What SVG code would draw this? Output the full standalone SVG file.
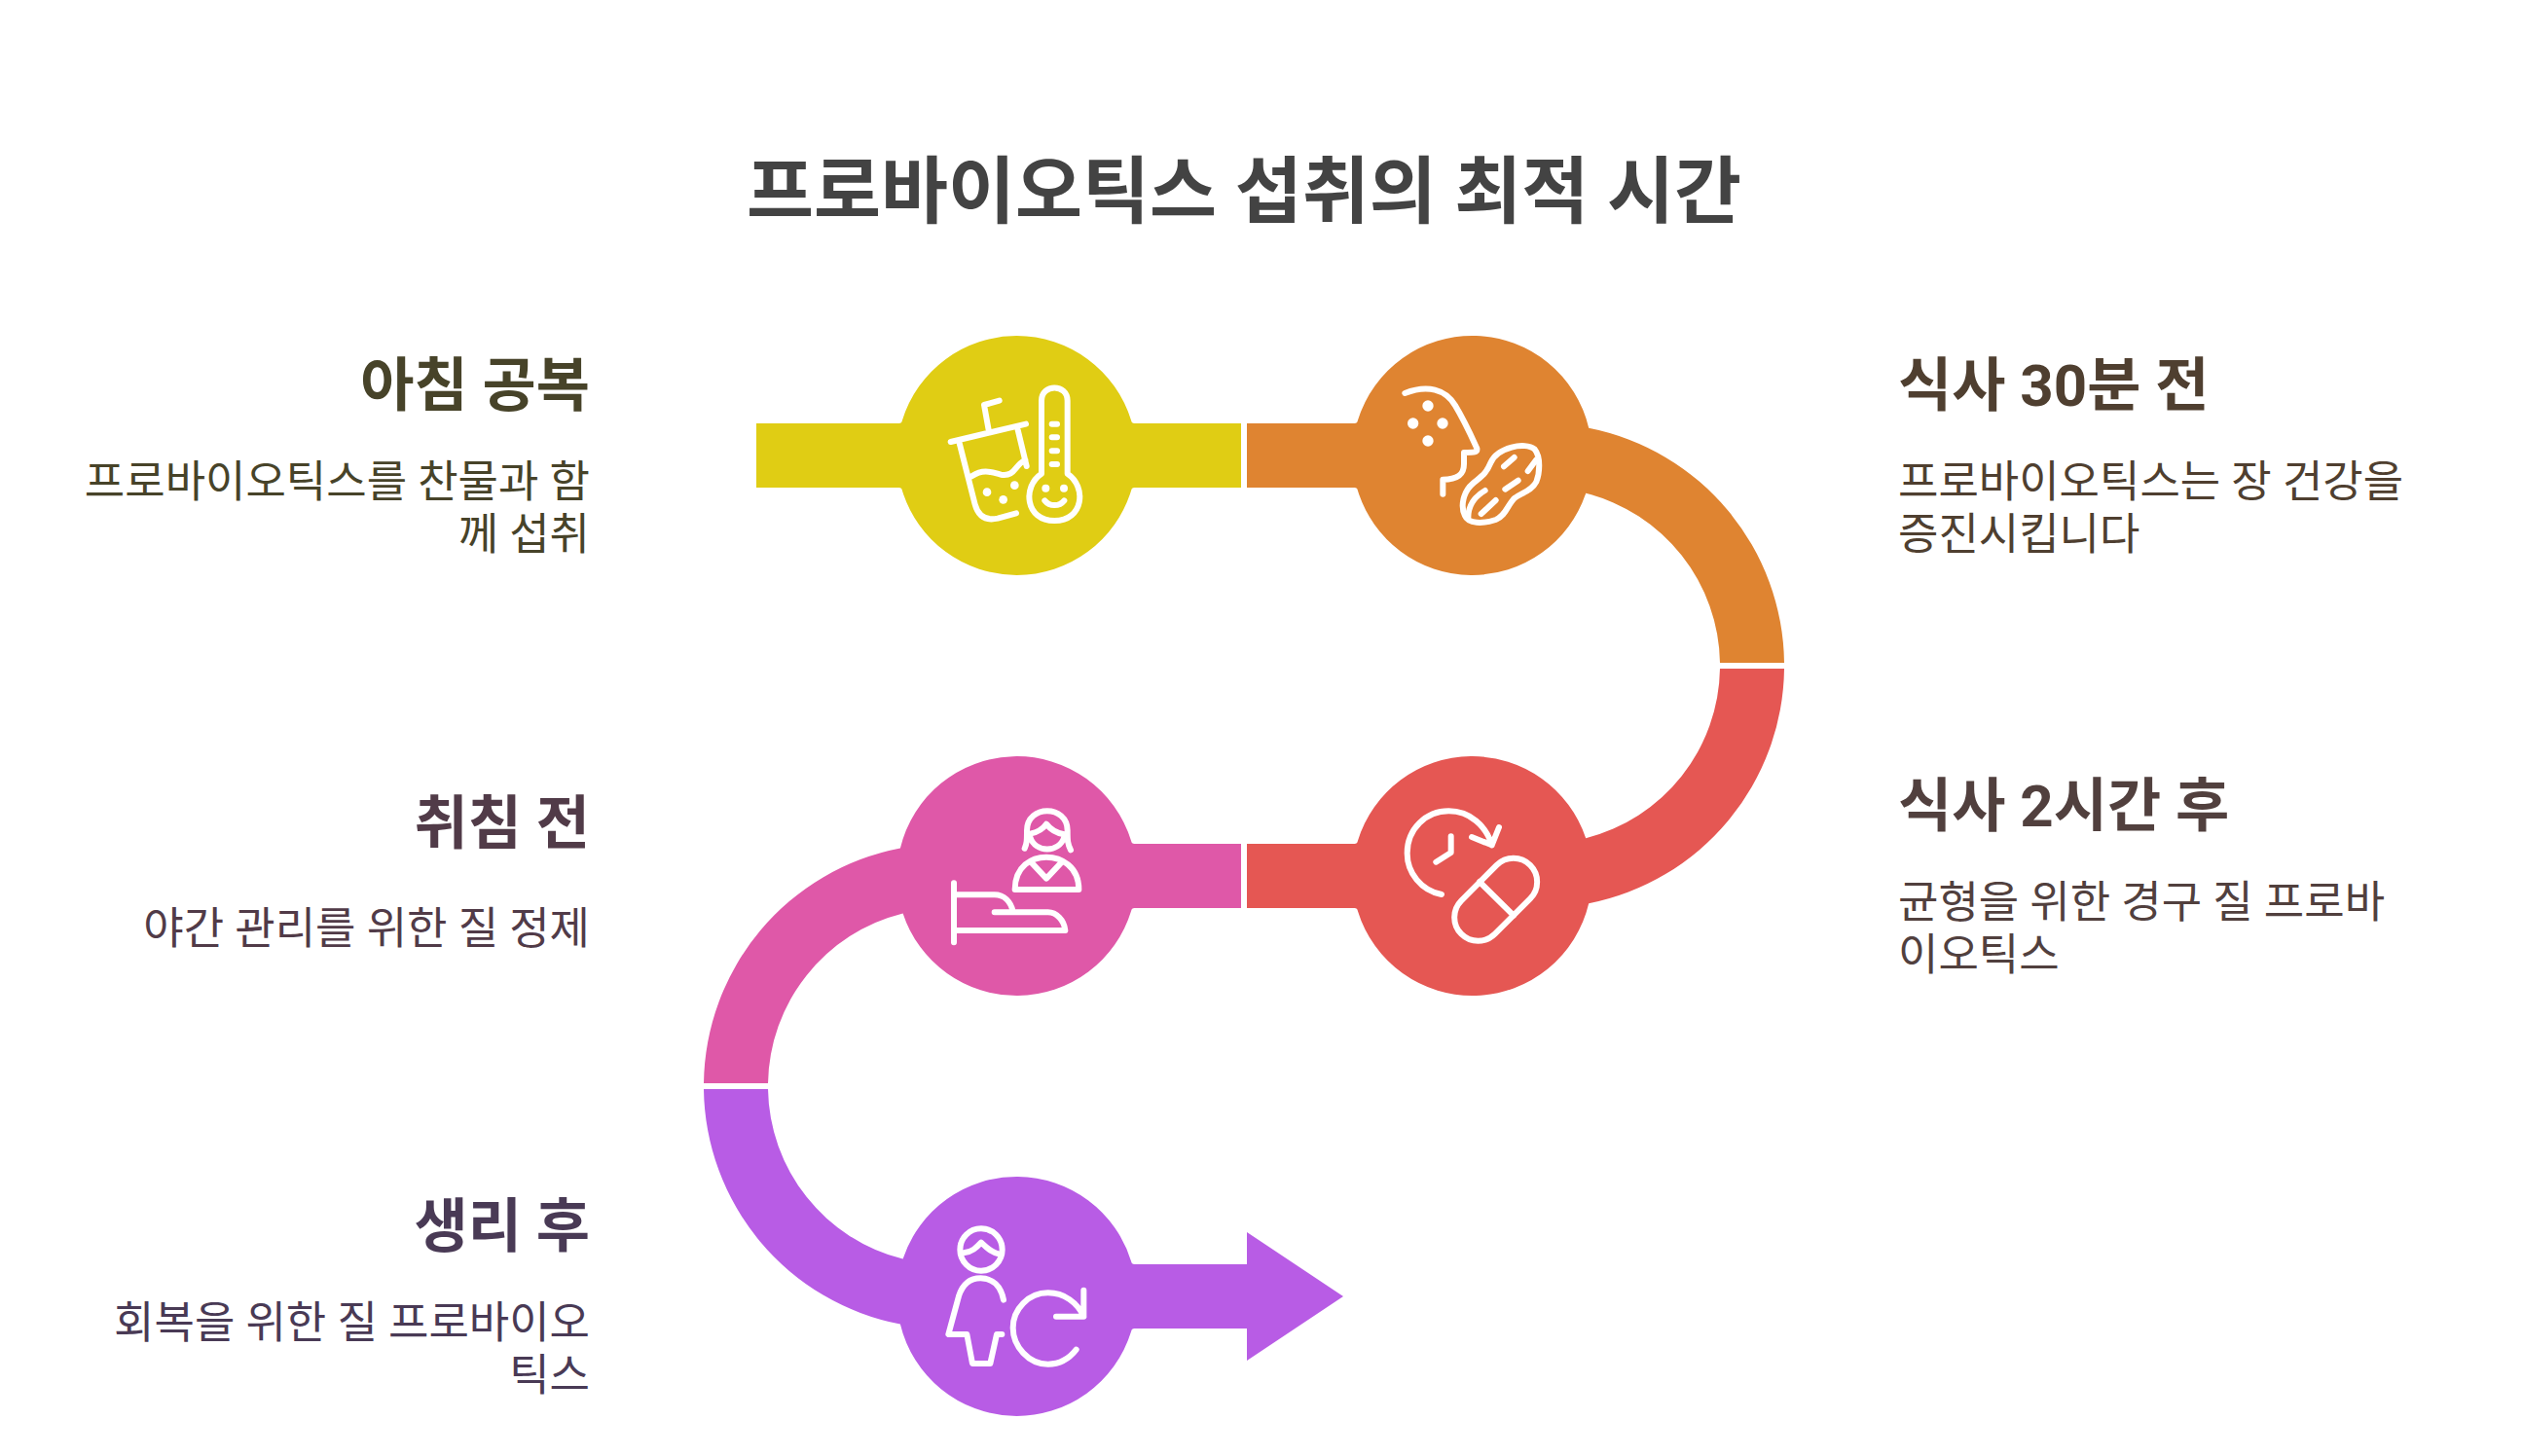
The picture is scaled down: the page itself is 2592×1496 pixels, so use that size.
<svg xmlns="http://www.w3.org/2000/svg" width="2592" height="1496" viewBox="0 0 2592 1496">
<style>
text{font-family:Roboto,"Noto Sans CJK KR",sans-serif}
.t{font-size:75px;font-weight:700;fill:#434343}
.h{font-size:60px;font-weight:700}
.b{font-size:45px;font-weight:400}
.e{text-anchor:end}
.i{fill:none;stroke:#fff;stroke-width:6;stroke-linecap:round;stroke-linejoin:round;vector-effect:non-scaling-stroke}
.i *{vector-effect:non-scaling-stroke}
.d{fill:#fff;stroke:none}
</style>
<rect width="2592" height="1496" fill="#fff"/>
<text id="title" class="t" x="1278" y="223" text-anchor="middle">프로바이오틱스 섭취의 최적 시간</text>
<g id="connectors">
<path id="seg-yellow" fill="#E0CD14" d="M777,435H923.5Q926.5,435 926.9,432A123,123 0 0 1 1162.1,432Q1162.5,435 1165.5,435H1275V501H1165.5Q1162.5,501 1162.1,504A123,123 0 0 1 926.9,504Q926.5,501 923.5,501H777Z"/>
<path id="seg-orange" fill="#DF8431" d="M1281,435H1391.5Q1394.5,435 1394.9,432A123,123 0 0 1 1632.2,439.7A249,249 0 0 1 1833,681H1767A183,183 0 0 0 1629.2,506.7A123,123 0 0 1 1394.9,504Q1394.5,501 1391.5,501H1281Z"/>
<path id="seg-red" fill="#E55753" d="M1281,933H1391.5Q1394.5,933 1394.9,936A123,123 0 0 0 1632.2,928.3A249,249 0 0 0 1833,687H1767A183,183 0 0 1 1629.2,861.3A123,123 0 0 0 1394.9,864Q1394.5,867 1391.5,867H1281Z"/>
<path id="seg-pink" fill="#DF58A8" d="M1275,867H1165.5Q1162.5,867 1162.1,864A123,123 0 0 0 924.9,871.5A249,249 0 0 0 723,1113H789A183,183 0 0 1 927.6,938.4A123,123 0 0 0 1162.1,936Q1162.5,933 1165.5,933H1275Z"/>
<path id="seg-purple" fill="#B85CE5" d="M723,1119A249,249 0 0 0 924.9,1360.5A123,123 0 0 0 1162.1,1368Q1162.5,1365 1165.5,1365H1281V1398L1380,1332L1281,1266V1299H1165.5Q1162.5,1299 1162.1,1296A123,123 0 0 0 927.6,1293.6A183,183 0 0 1 789,1119Z"/>
</g>
<g id="node-morning">
<g class="i" transform="translate(900,330) scale(.33333)">
<path d="M230,372L462,317M347,335L333,258L380,245M256,372L305,565Q320,620 375,608L432,592M437,335L464,447M295,478C330,455 355,465 385,473C430,480 425,445 460,428"/>
<path d="M510,470V245C510,192 590,192 590,245V470C650,510 640,615 550,615C460,615 450,510 510,470Z"/>
<path d="M542,317H558M542,358H558M542,400H558M542,441H558M520,553C535,572 565,572 580,553"/>
<g class="d"><circle cx="342" cy="527" r="13"/><circle cx="392" cy="550" r="13"/><circle cx="427" cy="506" r="13"/><circle cx="523" cy="515" r="12"/><circle cx="579" cy="515" r="12"/></g>
</g>
<text class="h e" x="606" y="417" fill="#474329">아침 공복</text>
<text class="b e" x="606" y="511" fill="#474329">프로바이오틱스를 찬물과 함</text>
<text class="b e" x="606" y="565" fill="#474329">께 섭취</text>
</g>
<g id="node-before-meal">
<g class="i" transform="translate(1380,330) scale(.33333)">
<path d="M190,222C260,195 315,210 345,260C375,310 395,355 412,392C414,405 405,405 372,405V440C372,475 350,488 307,488V533"/>
<path d="M590,395C610,420 605,470 595,495C580,525 545,530 525,548C505,570 500,600 470,612C430,625 385,625 375,600C360,570 370,525 400,500C430,475 440,470 455,435C475,390 560,370 590,395Z"/>
<path d="M594,428L569,462M495,448L527,420M499,518L539,491M437,522C405,540 385,570 385,605M425,594L470,552"/>
<g class="d"><circle cx="261" cy="261" r="17"/><circle cx="215" cy="315" r="17"/><circle cx="306" cy="315" r="17"/><circle cx="261" cy="369" r="17"/></g>
</g>
<text class="h" x="1950" y="417" fill="#4F3F30">식사 30분 전</text>
<text class="b" x="1950" y="511" fill="#4F3F30">프로바이오틱스는 장 건강을</text>
<text class="b" x="1950" y="565" fill="#4F3F30">증진시킵니다</text>
</g>
<g id="node-after-meal">
<g class="i" transform="translate(1380,800) scale(.33333)">
<path d="M303,357C240,345 197,290 197,230C197,155 255,100 325,100C390,100 440,145 458,205M396,180L458,205L480,150M332,178V228L286,257"/>
<rect x="-150" y="-73" width="300" height="146" rx="73" transform="translate(470,373) rotate(-45)"/>
<path d="M420,318L525,422"/>
</g>
<text class="h" x="1950" y="849" fill="#51403E">식사 2시간 후</text>
<text class="b" x="1950" y="943" fill="#51403E">균형을 위한 경구 질 프로바</text>
<text class="b" x="1950" y="997" fill="#51403E">이오틱스</text>
</g>
<g id="node-bedtime">
<g class="i" transform="translate(900,770) scale(.33333)">
<path d="M458,305C465,290 465,280 465,250C465,170 590,170 590,250C590,280 590,290 600,310M475,260C500,255 515,245 525,230C540,250 555,258 580,262M475,270C490,320 565,320 580,270"/>
<path d="M428,432H625C625,360 570,332 525,332C480,332 428,360 428,432ZM480,350L525,398L570,350"/>
<path d="M240,412V595M240,448H365C395,448 415,470 422,500M365,502H530C555,502 580,525 583,558H240"/>
</g>
<text class="h e" x="606" y="867" fill="#513B48">취침 전</text>
<text class="b e" x="606" y="970" fill="#513B48">야간 관리를 위한 질 정제</text>
</g>
<g id="node-after-period">
<g class="i" transform="translate(900,1230) scale(.33333)">
<circle cx="324" cy="162" r="65"/>
<path d="M270,172C295,170 310,155 324,140C340,155 355,170 378,175"/>
<path d="M393,317C385,275 360,250 322,250C285,250 265,275 255,305L223,423H280L297,513H352L372,423H388"/>
<path d="M617,470C590,505 560,515 530,515C470,515 422,460 422,403C422,345 470,295 530,295C580,295 620,325 640,368M555,368H640V287"/>
</g>
<text class="h e" x="606" y="1281" fill="#493A55">생리 후</text>
<text class="b e" x="606" y="1375" fill="#493A55">회복을 위한 질 프로바이오</text>
<text class="b e" x="606" y="1429" fill="#493A55">틱스</text>
</g>
</svg>
